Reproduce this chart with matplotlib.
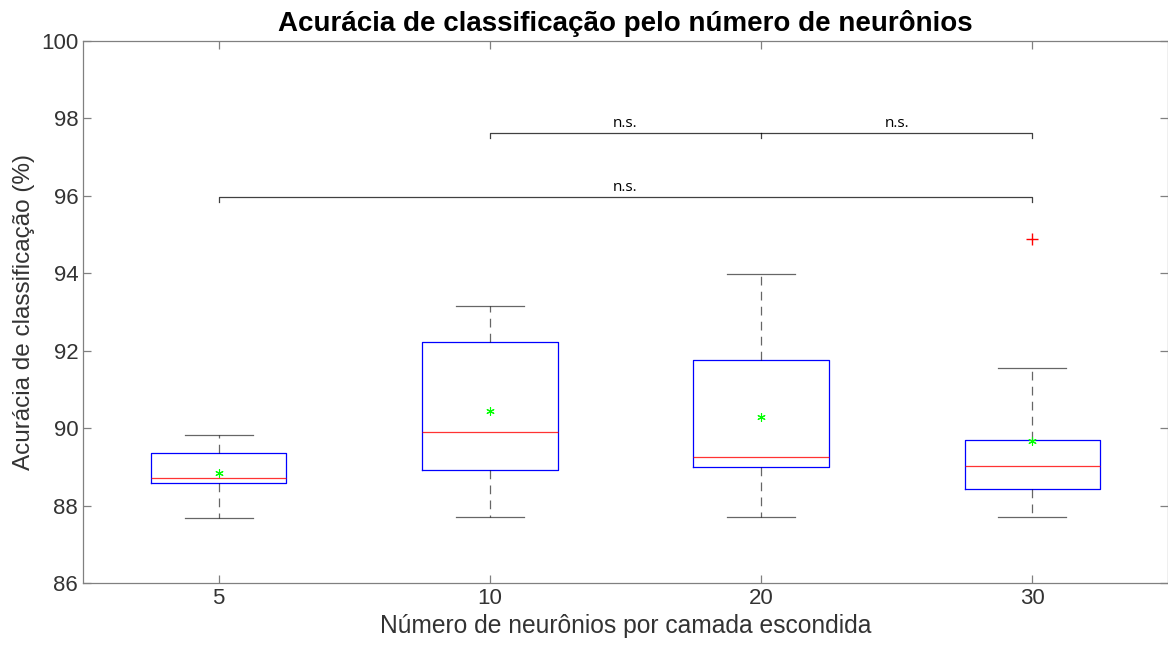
import matplotlib
matplotlib.use("Agg")
from matplotlib import pyplot as plt

plt.rcParams['font.family'] = ['Liberation Sans', 'DejaVu Sans']

groups = ['5', '10', '20', '30']
whislo = [87.68, 87.70, 87.70, 87.70]
q1 = [88.58, 88.92, 89.00, 88.43]
med = [88.71, 89.90, 89.25, 89.02]
q3 = [89.36, 92.23, 91.76, 89.69]
whishi = [89.82, 93.16, 93.98, 91.55]
means = [88.84, 90.44, 90.29, 89.67]
outliers = [[], [], [], [94.89]]

# significance brackets: (group a, group b, height, middle tick)
brackets = [(2, 4, 97.62, 3), (1, 4, 95.97, None)]
bracket_labels = [(2.5, 97.62, 'n.s.'), (3.5, 97.62, 'n.s.'), (2.5, 95.97, 'n.s.')]

stats = []
for i in range(len(groups)):
    stats.append({'label': groups[i], 'whislo': whislo[i], 'q1': q1[i], 'med': med[i],
                  'q3': q3[i], 'whishi': whishi[i], 'mean': means[i], 'fliers': outliers[i]})

fig = plt.figure(figsize=(11.68, 6.48), dpi=100)
ax = fig.add_axes([83/1168, 1 - 583/648, 1 - 83/1168, (583 - 41)/648])

ax.bxp(stats, positions=[1, 2, 3, 4], widths=0.5, showmeans=True,
       boxprops=dict(color='blue', linewidth=0.9),
       medianprops=dict(color='red', linewidth=0.9, alpha=0.8),
       whiskerprops=dict(color='black', linestyle=(0, (7, 5)), linewidth=0.9, alpha=0.6),
       capprops=dict(color='black', linewidth=0.9, alpha=0.6),
       capwidths=0.25,
       meanprops=dict(marker=(6, 2, 0), markerfacecolor='#00ff00', markeredgecolor='#00ff00',
                      markersize=6, markeredgewidth=0.8),
       flierprops=dict(marker='+', markeredgecolor='red', markersize=8, linestyle='none'))

for a, b, h, mid in brackets:
    ax.plot([a, a, b, b], [h - 0.12, h, h, h - 0.12], color='black', linewidth=0.9, alpha=0.75)
    if mid is not None:
        ax.plot([mid, mid], [h, h - 0.12], color='black', linewidth=0.9, alpha=0.75)
for x, y, t in bracket_labels:
    ax.text(x, y + 0.05, t, ha='center', va='bottom', fontsize=11, family=['Open Sans', 'DejaVu Sans'])

ax.set_xlim(0.5, 4.5)
ax.set_ylim(86, 100)
ax.set_yticks(range(86, 101, 2))
ax.set_xticks([1, 2, 3, 4])
ax.set_xticklabels(groups)
ax.tick_params(direction='in', length=6, labelsize=16, color='#808080', labelcolor='#333333',
               top=True, right=True, width=0.9)
for s in ax.spines.values():
    s.set_color('#808080')
    s.set_linewidth(0.9)

ax.set_title('Acurácia de classificação pelo número de neurônios', fontsize=20,
             fontweight='bold', pad=7)
ax.set_xlabel('Número de neurônios por camada escondida', fontsize=17.7, color='#333333')
ax.set_ylabel('Acurácia de classificação (%)', fontsize=17.5, color='#333333')

fig.savefig('out.png', dpi=100)
